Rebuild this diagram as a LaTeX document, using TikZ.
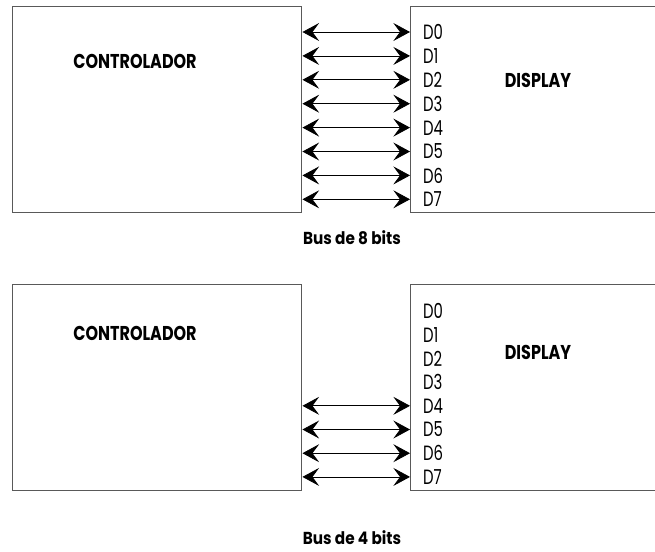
\documentclass[tikz,border=0pt]{standalone}
\usepackage{fontspec}
\newfontfamily\gothic{Poppins}
\usetikzlibrary{arrows.meta}

\begin{document}
\begin{tikzpicture}[x=0.75pt, y=-0.75pt,
  box/.style={draw=black!65, line width=1.1pt, inner sep=0pt, anchor=north west,
    minimum height=154.5pt},
  bus/.style={{Stealth[length=12.5pt,width=13.5pt,inset=5pt]}-{Stealth[length=12.5pt,width=13.5pt,inset=5pt]},
    line width=0.6pt},
  pin/.style={font=\gothic\fontsize{15.5}{16}\selectfont, anchor=west, inner sep=0pt, xscale=0.72},
  title/.style={font=\gothic\bfseries\fontsize{15}{16}\selectfont, inner sep=0pt, xscale=0.8},
  caption/.style={font=\gothic\bfseries\fontsize{13}{14}\selectfont, inner sep=0pt, xscale=0.88}]
  \useasboundingbox (0,0) rectangle (655,551);
  \clip (0,0) rectangle (655,551);

  % upper: 8 bit bus
  \node[box, minimum width=216.75pt] (ctrlA) at (12,6) {};
  \node[box, minimum width=202.5pt] (dispA) at (410,6) {};
  \node[title] (ctrlAtxt) at (135,61) {CONTROLADOR};
  \node[title] (dispAtxt) at (538,80) {DISPLAY};
  \foreach \i in {0,...,7} {
    \node[pin] (pa\i) at (423,32+23.9*\i) {D\i};
    \draw[bus] (ctrlA.east |- pa\i) -- (dispA.west |- pa\i);
  }
  \node[caption] (capA) at (352,238) {Bus de 8 bits};

  % lower: 4 bit bus
  \node[box, minimum width=216.75pt] (ctrlB) at (12,284) {};
  \node[box, minimum width=202.5pt] (dispB) at (410,284) {};
  \node[title] (ctrlBtxt) at (135,333) {CONTROLADOR};
  \node[title] (dispBtxt) at (538,352) {DISPLAY};
  \foreach \i in {0,...,7} {
    \node[pin] (pb\i) at (423,311+23.7*\i) {D\i};
  }
  \foreach \i in {4,...,7} {
    \draw[bus] (ctrlB.east |- pb\i) -- (dispB.west |- pb\i);
  }
  \node[caption] (capB) at (352,538) {Bus de 4 bits};
\end{tikzpicture}
\end{document}
